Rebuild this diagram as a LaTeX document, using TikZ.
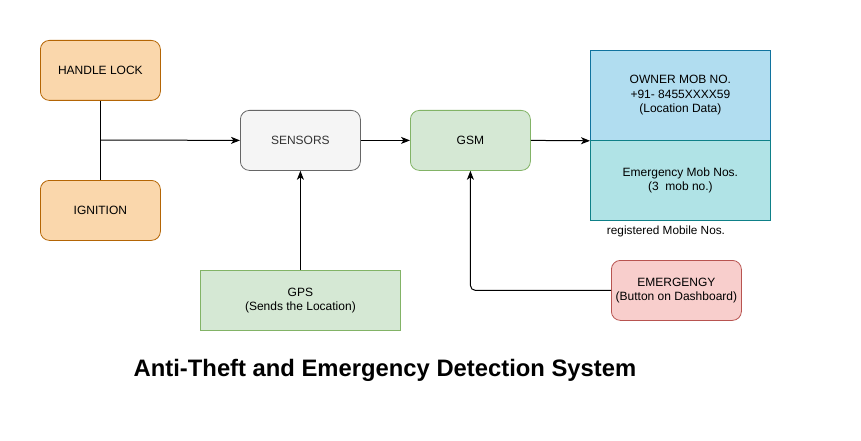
\documentclass[tikz,border=0pt]{standalone}
\usepackage{fontspec}
\setmainfont{Liberation Sans}
\usetikzlibrary{arrows.meta}
\definecolor{orfill}{HTML}{FAD7AC}\definecolor{ordraw}{HTML}{B46504}
\definecolor{gyfill}{HTML}{F5F5F5}\definecolor{gydraw}{HTML}{666666}\definecolor{gytext}{HTML}{333333}
\definecolor{grfill}{HTML}{D5E8D4}\definecolor{grdraw}{HTML}{82B366}
\definecolor{blfill}{HTML}{B1DDF0}\definecolor{bldraw}{HTML}{10739E}
\definecolor{tlfill}{HTML}{B0E3E6}\definecolor{tldraw}{HTML}{0E8088}
\definecolor{rdfill}{HTML}{F8CECC}\definecolor{rddraw}{HTML}{B85450}
\begin{document}
\begin{tikzpicture}[x=1pt,y=-1pt,
  box/.style={draw, line width=0.8pt, align=center, inner sep=0pt, anchor=north west,
    font=\fontsize{12}{14.4}\selectfont},
  rbox/.style={box, rounded corners=9pt},
  conn/.style={line width=1pt, -{Stealth[length=9pt,width=7pt,inset=2.5pt]}},
  line/.style={line width=1pt}]
\useasboundingbox (0,0) rectangle (861,441);
\node[rbox, fill=orfill, draw=ordraw, minimum width=120pt, minimum height=60pt] (hl) at (40,40) {HANDLE LOCK};
\node[rbox, fill=orfill, draw=ordraw, minimum width=120pt, minimum height=60pt] (ig) at (40,180) {IGNITION};
\node[rbox, fill=gyfill, draw=gydraw, text=gytext, minimum width=120pt, minimum height=60pt] (se) at (240,110) {SENSORS};
\node[rbox, fill=grfill, draw=grdraw, minimum width=120pt, minimum height=60pt] (gsm) at (410,110) {GSM};
\node[box, fill=blfill, draw=bldraw, minimum width=180pt, minimum height=90pt] (own) at (590,50) {OWNER MOB NO.\\+91- 8455XXXX59\\(Location Data)};
\node[box, fill=tlfill, draw=tldraw, minimum width=180pt, minimum height=80pt] (emn) at (590,140) {Emergency Mob Nos.\\(3\ \ mob no.)};
\node[font=\fontsize{11.8}{13}\selectfont, anchor=center] (reg) at (666,231) {registered Mobile Nos.};
\node[box, fill=grfill, draw=grdraw, minimum width=200pt, minimum height=60pt] (gps) at (200,270) {GPS\\(Sends the Location)};
\node[rbox, fill=rdfill, draw=rddraw, minimum width=130pt, minimum height=60pt] (em) at (611,260) {EMERGENGY\\(Button on Dashboard)};
\node[font=\fontsize{23.8}{28}\selectfont\bfseries, anchor=center] (title) at (385,370) {Anti-Theft and Emergency Detection System};
\coordinate (j) at (100,140);
\draw[line] (hl.south) -- (ig.north);
\draw[conn] (j) -- (se.west);
\draw[conn] (se.east) -- (gsm.west);
\draw[conn] (gsm.east) -- (own.south west);
\draw[conn] (gps.north) -- (se.south);
\draw[conn, rounded corners=5pt] (em.west) -| (gsm.south);
\end{tikzpicture}
\end{document}
